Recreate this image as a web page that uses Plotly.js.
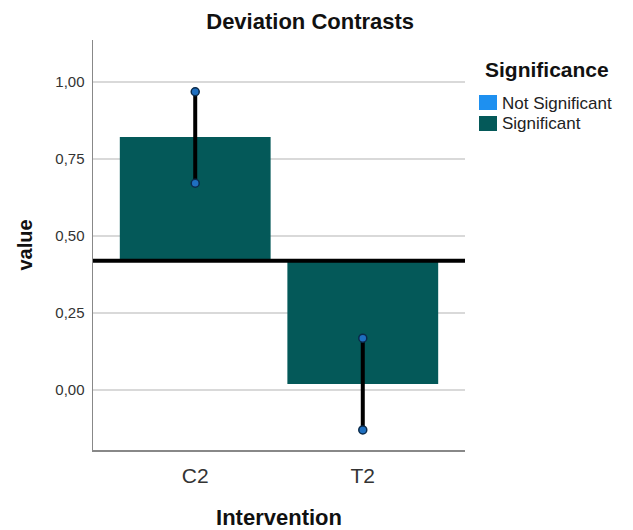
<!DOCTYPE html>
<html><head><meta charset="utf-8">
<script src="https://cdn.plot.ly/plotly-3.0.1.min.js"></script>
<style>body{margin:0;background:#fff}#chart{width:633px;height:530px}</style>
</head><body><div id="chart"></div>
<script>
const categories = ['C2', 'T2'];
const estimates = [0.821, 0.019];
const ciLower = [0.671, -0.130];
const ciUpper = [0.968, 0.168];
const reference = 0.419;
const tickVals = [0, 0.25, 0.5, 0.75, 1.0];
const tickText = ['0,00', '0,25', '0,50', '0,75', '1,00'];
const legendLabels = ['Not Significant', 'Significant'];
const legendColors = ['#1E90F0', '#045959'];

const teal = legendColors[1];

const traces = [];
traces.push({
  type: 'bar', name: 'Significant', x: categories,
  y: estimates.map(v => v - reference), base: categories.map(() => reference),
  marker: {color: teal, line: {width: 0}}, width: 0.9, showlegend: false
});
categories.forEach((c, i) => {
  traces.push({
    type: 'scatter', mode: 'lines+markers', x: [c, c], y: [ciLower[i], ciUpper[i]],
    line: {color: '#000', width: 4},
    marker: {color: '#1f6fc0', size: 8, line: {color: '#0a2a4a', width: 1.5}},
    showlegend: false, hoverinfo: 'skip'
  });
});

// plot area in px: left 93, right 465, top 40, bottom 450
const px = v => (v - 93) / 372;
const py = v => (450 - v) / 410;

const shapes = [{
  type: 'line', xref: 'paper', x0: 0, x1: 1, yref: 'y', y0: reference, y1: reference,
  line: {color: '#000', width: 4}
}];
const annotations = [{
  xref: 'paper', yref: 'paper', x: px(483), y: py(70), xanchor: 'left', yanchor: 'middle',
  text: '<b>Significance</b>', showarrow: false, font: {size: 21, color: '#111'}
}];
legendLabels.forEach((lab, i) => {
  const top = 95 + i * 21;
  shapes.push({
    type: 'rect', xref: 'paper', yref: 'paper', x0: px(479), x1: px(497), y0: py(top), y1: py(top + 15),
    fillcolor: legendColors[i], line: {width: 0}
  });
  annotations.push({
    xref: 'paper', yref: 'paper', x: px(500), y: py(top + 8), xanchor: 'left', yanchor: 'middle',
    text: lab, showarrow: false, font: {size: 17, color: '#222'}
  });
});

const layout = {
  width: 633, height: 530,
  margin: {l: 93, r: 168, t: 40, b: 80},
  paper_bgcolor: '#fff', plot_bgcolor: '#fff',
  font: {family: 'Liberation Sans, Arial, sans-serif', color: '#222'},
  title: {text: '<b>Deviation Contrasts</b>', x: 0.49, xref: 'container', xanchor: 'center',
          y: 1 - 21 / 530, yref: 'container', yanchor: 'middle',
          font: {size: 22, color: '#111'}},
  barmode: 'overlay',
  showlegend: false,
  xaxis: {
    type: 'category', categoryarray: categories, range: [-0.61, 1.61],
    showline: true, linecolor: '#888', linewidth: 1.5, showgrid: false, ticks: '',
    tickfont: {size: 21, color: '#333'}, zeroline: false, ticklabelstandoff: 6,
    title: {text: '<b>Intervention</b>', font: {size: 22, color: '#111'}, standoff: 24}
  },
  yaxis: {
    range: [-0.195, 1.136], tickvals: tickVals, ticktext: tickText,
    showline: true, linecolor: '#888', linewidth: 1.5, showgrid: true, gridcolor: '#d9d9d9', gridwidth: 1.5,
    zeroline: false, ticks: '', tickfont: {size: 15, color: '#333'}, ticklabelstandoff: 4,
    title: {text: '<b>value</b>', font: {size: 20, color: '#111'}, standoff: 17}
  },
  shapes: shapes,
  annotations: annotations
};
Plotly.newPlot('chart', traces, layout, {displayModeBar: false, staticPlot: true});
</script></body></html>
